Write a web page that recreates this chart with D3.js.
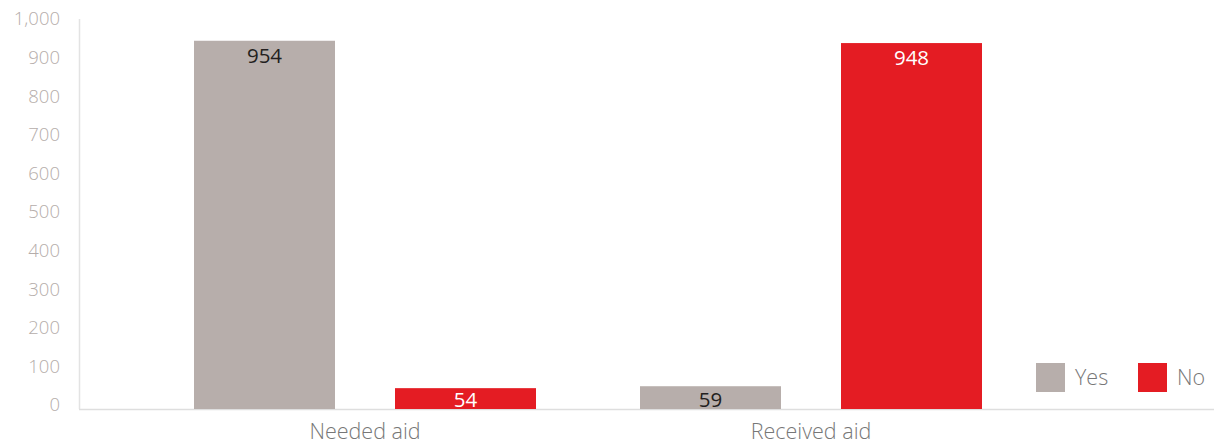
<!DOCTYPE html>
<html><head><meta charset="utf-8">
<script src="https://cdn.jsdelivr.net/npm/d3@7/dist/d3.min.js"></script>
<style>body{margin:0;background:#fff}svg{display:block}</style>
</head><body>
<script>
const categories = ["Needed aid", "Received aid"];
const seriesNames = ["Yes", "No"];
const yesValues = [954, 59];
const noValues = [54, 948];
const yTicks = [0,100,200,300,400,500,600,700,800,900,1000];

const W = 1214, H = 445;
const colors = {Yes: "#B7AEAB", No: "#E41C23"};
const svg = d3.select("body").append("svg").attr("width", W).attr("height", H);

const y = d3.scaleLinear().domain([0, 1000]).range([409, 23]);
const x0 = d3.scaleBand().domain(categories).range([142, 1034]);
const x1 = d3.scaleBand().domain(seriesNames).range([52, 394]).paddingInner(0.2985);

const data = categories.map((c, i) => ({cat: c, values: [{s: "Yes", v: yesValues[i]}, {s: "No", v: noValues[i]}]}));

// axes lines
svg.append("line").attr("x1", 79.5).attr("x2", 79.5).attr("y1", 19).attr("y2", 409).attr("stroke", "#e3e3e3").attr("stroke-width", 1.5);
svg.append("line").attr("x1", 79).attr("x2", W).attr("y1", 409.5).attr("y2", 409.5).attr("stroke", "#dedede").attr("stroke-width", 1.5);

const lightFont = "'Open Sans', 'Noto Sans', sans-serif";

// y tick labels
const yAxis = d3.axisLeft(y).tickValues(yTicks).tickSize(0).tickPadding(0).tickFormat(d3.format(","));
const ya = svg.append("g").attr("transform", "translate(60,-4)").call(yAxis);
ya.select(".domain").remove();
ya.selectAll("text").attr("font-family", lightFont).attr("font-size", 18.5).attr("fill", "#b5adaa").attr("font-weight", 300);

// x labels
const xAxis = d3.axisBottom(x0).tickSize(0).tickPadding(0);
const xa = svg.append("g").attr("transform", "translate(0,424)").call(xAxis);
xa.select(".domain").remove();
xa.selectAll("text").attr("font-family", lightFont).attr("font-size", 21.5).attr("fill", "#777777").attr("font-weight", 300);

// bars
const g = svg.selectAll("g.grp").data(data).join("g").attr("class", "grp")
  .attr("transform", d => `translate(${x0(d.cat)},0)`);
g.selectAll("rect").data(d => d.values).join("rect")
  .attr("x", d => x1(d.s)).attr("width", x1.bandwidth())
  .attr("y", d => y(d.v)).attr("height", d => y(0) - y(d.v))
  .attr("fill", d => colors[d.s]);
g.selectAll("text.val").data(d => d.values).join("text").attr("class", "val")
  .attr("x", d => x1(d.s) + x1.bandwidth() / 2)
  .attr("y", d => Math.min(y(d.v) + 22, y(0) - 2))
  .attr("text-anchor", "middle")
  .attr("font-family", "'Open Sans', sans-serif").attr("font-size", 20.5)
  .attr("fill", d => d.s === "No" ? "#ffffff" : "#231f20")
  .text(d => d.v);

// legend
const leg = svg.append("g");
const legX = [1036, 1138];
seriesNames.forEach((s, i) => {
  leg.append("rect").attr("x", legX[i]).attr("y", 363).attr("width", 29).attr("height", 29).attr("fill", colors[s]);
  leg.append("text").attr("x", legX[i] + 39).attr("y", 385).attr("font-family", lightFont)
    .attr("font-size", 21.5).attr("font-weight", 300).attr("fill", "#777777").text(s);
});
</script>
</body></html>
